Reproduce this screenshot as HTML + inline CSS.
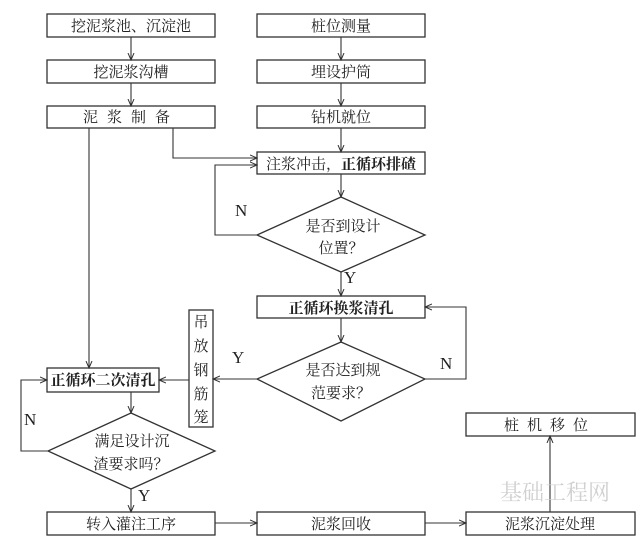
<!DOCTYPE html>
<html><head><meta charset="utf-8"><style>
html,body{margin:0;padding:0;background:#fff;}
svg{display:block;}
text{font-family:"Liberation Serif","Noto Serif CJK SC","Noto Sans CJK SC",serif;fill:#222;}
</style></head><body>
<svg width="640" height="542" viewBox="0 0 640 542" xmlns="http://www.w3.org/2000/svg">
<defs><marker id="a" markerWidth="8" markerHeight="8" refX="7" refY="4" orient="auto" markerUnits="userSpaceOnUse"><path d="M0,1 L7,4 L0,7" fill="none" stroke="#333" stroke-width="1"/></marker></defs>
<g fill="#fff" stroke="#333" stroke-width="1.3">
<rect x="47" y="14" width="168" height="23"/>
<rect x="47" y="60" width="168" height="23"/>
<rect x="47" y="106" width="168" height="22"/>
<rect x="257" y="14" width="168" height="23"/>
<rect x="257" y="60" width="168" height="23"/>
<rect x="257" y="106" width="168" height="22"/>
<rect x="257" y="152" width="168" height="22"/>
<polygon points="341,197 425,235 341,272 257,235"/>
<rect x="257" y="296" width="168" height="22"/>
<polygon points="341,342 425,379 341,421 257,379"/>
<rect x="189" y="310" width="24" height="117"/>
<rect x="47" y="368" width="112" height="24"/>
<polygon points="131,413 215,451 131,489 48,451"/>
<rect x="47" y="512" width="168" height="23"/>
<rect x="257" y="512" width="168" height="23"/>
<rect x="466" y="512" width="169" height="23"/>
<rect x="466" y="413" width="169" height="23"/>
</g>
<g fill="none" stroke="#333" stroke-width="1.1">
<path d="M131,37 V60" marker-end="url(#a)"/>
<path d="M131,83 V106" marker-end="url(#a)"/>
<path d="M341,37 V60" marker-end="url(#a)"/>
<path d="M341,83 V106" marker-end="url(#a)"/>
<path d="M341,128 V152" marker-end="url(#a)"/>
<path d="M173,128 V158 H257" marker-end="url(#a)"/>
<path d="M257,235 H215 V165 H257" marker-end="url(#a)"/>
<path d="M341,174 V197" marker-end="url(#a)"/>
<path d="M341,272 V296" marker-end="url(#a)"/>
<path d="M341,318 V342" marker-end="url(#a)"/>
<path d="M425,379 H466 V307 H425" marker-end="url(#a)"/>
<path d="M257,379 H213" marker-end="url(#a)"/>
<path d="M189,380 H159" marker-end="url(#a)"/>
<path d="M89,128 V368" marker-end="url(#a)"/>
<path d="M131,392 V413" marker-end="url(#a)"/>
<path d="M48,451 H21 V380 H47" marker-end="url(#a)"/>
<path d="M131,489 V512" marker-end="url(#a)"/>
<path d="M215,523 H257" marker-end="url(#a)"/>
<path d="M425,523 H466" marker-end="url(#a)"/>
<path d="M550,512 V436" marker-end="url(#a)"/>
</g>
<g font-size="15" text-anchor="middle">
<text x="131" y="31">挖泥浆池、沉淀池</text>
<text x="131" y="77">挖泥浆沟槽</text>
<text x="131" y="122" letter-spacing="9">泥浆制备</text>
<text x="341" y="31">桩位测量</text>
<text x="341" y="77">埋设护筒</text>
<text x="341" y="122">钻机就位</text>
<text x="341" y="169">注浆冲击，<tspan font-weight="bold">正循环排碴</tspan></text>
<text x="343" y="231">是否到设计</text>
<text x="341" y="253">位置？</text>
<text x="341" y="313" font-weight="bold">正循环换浆清孔</text>
<text x="343" y="375">是否达到规</text>
<text x="341" y="398">范要求？</text>
<text x="103" y="385" font-weight="bold">正循环二次清孔</text>
<text x="132" y="446">满足设计沉</text>
<text x="131" y="469">渣要求吗？</text>
<text x="131" y="529">转入灌注工序</text>
<text x="341" y="529">泥浆回收</text>
<text x="550" y="529">泥浆沉淀处理</text>
<text x="550" y="430" letter-spacing="8">桩机移位</text>
<text x="201" y="327">吊</text>
<text x="201" y="351">放</text>
<text x="201" y="375">钢</text>
<text x="201" y="399">筋</text>
<text x="201" y="422">笼</text>
</g>
<g font-size="17">
<text x="235" y="216">N</text>
<text x="344" y="283">Y</text>
<text x="232" y="363">Y</text>
<text x="440" y="369">N</text>
<text x="24" y="425">N</text>
<text x="138" y="501">Y</text>
</g>
<text x="500" y="500" font-size="22" fill="#d0d0d0" style="fill:#d0d0d0" font-family="Liberation Sans,Noto Sans CJK SC,sans-serif">基础工程网</text>
</svg>
</body></html>
